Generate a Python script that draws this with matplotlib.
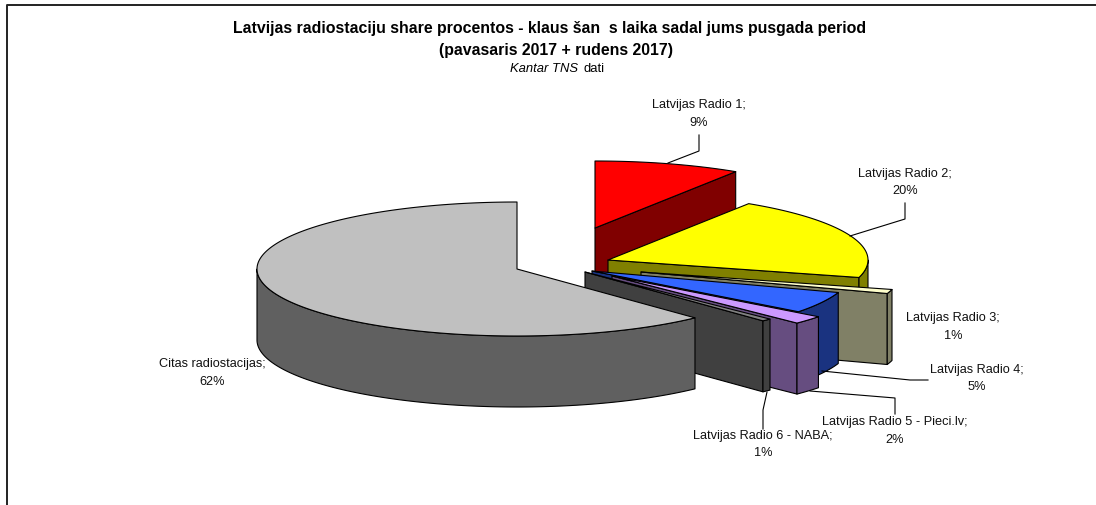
import numpy as np
import matplotlib
matplotlib.use("Agg")
import matplotlib.pyplot as plt
from matplotlib.patches import Polygon

plt.rcParams['font.family'] = ['Liberation Sans', 'DejaVu Sans']

stations = ["Latvijas Radio 1", "Latvijas Radio 2", "Latvijas Radio 3", "Latvijas Radio 4",
            "Latvijas Radio 5 - Pieci.lv", "Latvijas Radio 6 - NABA", "Citas radiostacijas"]
shares = [9.1, 20.1, 1.0, 5.2, 2.0, 0.6, 62.0]

top_colors = ["#FF0000", "#FFFF00", "#FFFFCC", "#3366FF", "#CC99FF", "#808080", "#C0C0C0"]
side_colors = ["#800000", "#808000", "#808066", "#1A3380", "#664D80", "#404040", "#606060"]

# where each exploded slice has its tip, in pixels
centers = [(595, 228), (608, 260), (641, 272), (592, 271), (612, 276), (585, 272), (517, 269)]
rx = 260
ry = 67
depth = 71

label_pos = [(699, 114), (905, 182.5), (953, 327), (977, 378.5), (895, 431), (763, 444.5), (212, 373)]

leaders = [[(668, 163), (699, 151), (699, 135)],
           [(850, 236), (905, 219), (905, 203)],
           [(822, 371), (910, 380), (928, 380)],
           [(810, 391), (895, 398), (895, 414)],
           [(767, 392), (763, 410), (763, 429)]]

fig = plt.figure(figsize=(10.96, 5.05), dpi=100)
ax = fig.add_axes([0, 0, 1, 1])
ax.set_xlim(0, 1096)
ax.set_ylim(505, 0)
ax.axis("off")


def rim(cx, cy, a0, a1):
    # angles in degrees clockwise from the top of the pie
    n = max(int(abs(a1 - a0)) * 2, 2)
    t = np.radians(np.linspace(a0, a1, n))
    return np.column_stack([cx + rx * np.sin(t), cy - ry * np.cos(t)])


def face(pts, color, z):
    ax.add_patch(Polygon(pts, closed=True, facecolor=color, edgecolor="black",
                         linewidth=0.8, joinstyle="round", zorder=z))


start = 0
for i, share in enumerate(shares):
    end = start + share * 3.6
    cx, cy = centers[i]
    arc = rim(cx, cy, start, end)
    z = 2 + i

    # cut face on the clockwise edge, only seen when it points at us
    if np.sin(np.radians(end)) > 0.01:
        tip = arc[-1]
        face([(cx, cy), tip, (tip[0], tip[1] + depth), (cx, cy + depth)], side_colors[i], z)

    # outer wall, front part of the rim only
    lo = max(start, 90)
    hi = min(end, 270)
    if hi > lo:
        wall = rim(cx, cy, lo, hi)
        face(np.vstack([wall, (wall + [0, depth])[::-1]]), side_colors[i], z)

    face(np.vstack([[(cx, cy)], arc]), top_colors[i], z)
    start = end

for pts in leaders:
    xs, ys = zip(*pts)
    ax.plot(xs, ys, color="black", lw=0.8, zorder=20)

for name, share, (x, y) in zip(stations, shares, label_pos):
    ax.text(x, y, f"{name};\n{share:.0f}%", ha="center", va="center", fontsize=9.2,
            color="#111111", linespacing=1.6, zorder=21)

ax.text(550, 29, "Latvijas radiostaciju share procentos - klaus šan  s laika sadal jums pusgada period",
        ha="center", va="center", fontsize=11.4, fontweight="bold")
ax.text(556, 50, "(pavasaris 2017 + rudens 2017)", ha="center", va="center",
        fontsize=11.4, fontweight="bold")
ax.text(578, 69, "Kantar TNS", ha="right", va="center", fontsize=9.4, style="italic")
ax.text(583, 69, "dati", ha="left", va="center", fontsize=9.4)

# chart frame, only the top and left edges are inside the crop
ax.plot([7, 7, 1096], [505, 5, 5], color="#222222", lw=1.4, clip_on=False, zorder=30)

fig.savefig("out.png", dpi=100, facecolor="white")
